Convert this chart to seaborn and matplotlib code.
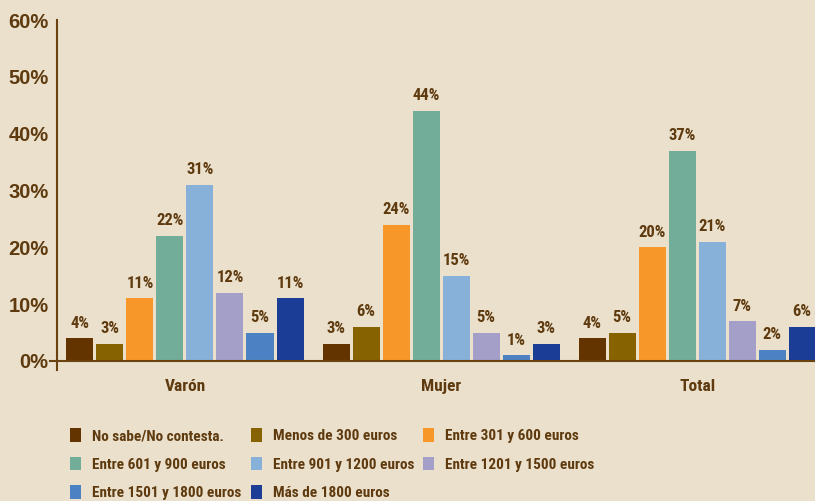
import matplotlib
matplotlib.use("Agg")
import matplotlib.pyplot as plt
import seaborn as sns
import pandas as pd
from matplotlib.patches import Patch
from matplotlib import font_manager

groups = ["Varón", "Mujer", "Total"]
series = ["No sabe/No contesta.", "Menos de 300 euros", "Entre 301 y 600 euros",
          "Entre 601 y 900 euros", "Entre 901 y 1200 euros", "Entre 1201 y 1500 euros",
          "Entre 1501 y 1800 euros", "Más de 1800 euros"]
varon = [4, 3, 11, 22, 31, 12, 5, 11]
mujer = [3, 6, 24, 44, 15, 5, 1, 3]
total = [4, 5, 20, 37, 21, 7, 2, 6]
colors = ["#633300", "#866300", "#F7972A", "#72AD9A", "#88B1DA", "#A39FC8", "#4C82C3", "#1C3D96"]
yticks = [0, 10, 20, 30, 40, 50, 60]

rows = []
for g, vals in zip(groups, [varon, mujer, total]):
    for s, v in zip(series, vals):
        rows.append({"grupo": g, "serie": s, "valor": v})
df = pd.DataFrame(rows)

BG = "#EAE0CC"
TXT = "#5E3A0E"
AX = "#6B4212"

names = {f.name for f in font_manager.fontManager.ttflist}
narrow = "Liberation Sans Narrow" if "Liberation Sans Narrow" in names else "Roboto Condensed"
if narrow not in names:
    narrow = "Liberation Sans"

sns.set_theme(style="white")
plt.rcParams["font.family"] = ["Liberation Sans", "DejaVu Sans"]

fig = plt.figure(figsize=(8.15, 5.01), dpi=100, facecolor=BG)
W, H = 815, 501
ax = fig.add_axes([50 / W, 1 - 361 / H, 765 / W, 341 / H])
ax.set_facecolor(BG)

sns.barplot(data=df, x="grupo", y="valor", hue="serie", hue_order=series, order=groups,
            palette=colors, width=0.9375, gap=0.1, saturation=1, legend=False, ax=ax,
            edgecolor="none", linewidth=0)

for cont in ax.containers:
    labels = [f"{b.get_height():g}%" for b in cont]
    ax.bar_label(cont, labels=labels, padding=5.5, color=TXT, fontsize=12,
                 fontweight="bold", family=narrow)

ax.set_xlim(-0.527, 2.46)
ax.set_ylim(0, 60)
ax.set_yticks(yticks)
ax.set_yticklabels([f"{v}%" for v in yticks])
ax.set_xlabel("")
ax.set_ylabel("")
for side in ["top", "right"]:
    ax.spines[side].set_visible(False)
ax.spines["left"].set_position(("data", -0.5))
ax.spines["left"].set_bounds(-1.6, 60)
ax.spines["left"].set_color(AX)
ax.spines["left"].set_linewidth(1.5)
ax.spines["bottom"].set_color(AX)
ax.spines["bottom"].set_linewidth(1.5)

ax.tick_params(axis="y", direction="in", length=4.5, width=1.3, color=AX,
               labelsize=14.5, labelcolor=TXT, pad=6)
for lab in ax.get_yticklabels():
    lab.set_fontweight("bold")
ax.tick_params(axis="x", length=0, labelsize=12.5, labelcolor=TXT, pad=13)
for lab in ax.get_xticklabels():
    lab.set_fontweight("bold")
    lab.set_family(narrow)
ax.set_xticks([0.5, 1.5], minor=True)
ax.tick_params(axis="x", which="minor", direction="out", length=5, width=1.3, color="#9C7D58")

handles = [Patch(facecolor=c, edgecolor="none") for c in colors]
col_x = [70, 251, 423]
for ci in range(3):
    idx = [i for i in range(len(series)) if i % 3 == ci]
    leg = fig.legend([handles[i] for i in idx], [series[i] for i in idx],
                     loc="upper left", bbox_to_anchor=(col_x[ci] / W, 1 - 428 / H),
                     frameon=False, borderpad=0, borderaxespad=0,
                     handlelength=0.72, handleheight=1.0, handletextpad=0.75,
                     labelspacing=0.88,
                     prop={"family": narrow, "weight": "bold", "size": 11})
    for t in leg.get_texts():
        t.set_color(TXT)

fig.savefig("out.png", dpi=100, facecolor=BG)
